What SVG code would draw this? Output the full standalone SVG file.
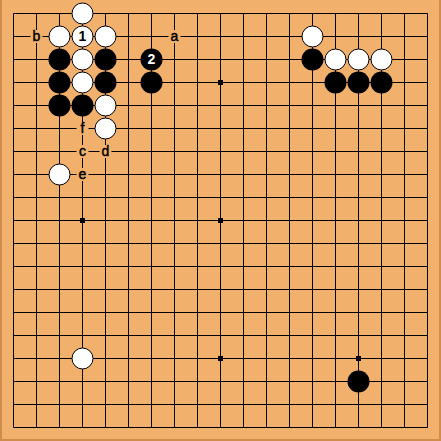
<svg xmlns="http://www.w3.org/2000/svg" width="441" height="441" viewBox="0 0 441 441">
<style>
.w{fill:#fff;stroke:#000;stroke-width:1}
.b{fill:#000}
.lbl{font-family:"Liberation Sans",Arial,sans-serif;font-size:14px;text-anchor:middle}
.let{fill:#000;stroke:#000;stroke-width:0.45}
.num{font-weight:bold}
.mask{fill:#F1B06B}
.star{fill:#000}
</style>
<rect x="0" y="0" width="441" height="441" fill="#D08C4C"/>
<rect x="2" y="0" width="437" height="439" fill="#F1B06B"/>
<g id="grid" stroke="#000" stroke-width="1" fill="none">
<path d="M13.5 13.5V427.5M36.5 13.5V427.5M59.5 13.5V427.5M82.5 13.5V427.5M105.5 13.5V427.5M128.5 13.5V427.5M151.5 13.5V427.5M174.5 13.5V427.5M197.5 13.5V427.5M220.5 13.5V427.5M243.5 13.5V427.5M266.5 13.5V427.5M289.5 13.5V427.5M312.5 13.5V427.5M335.5 13.5V427.5M358.5 13.5V427.5M381.5 13.5V427.5M404.5 13.5V427.5M427.5 13.5V427.5"/>
<path d="M13.5 13.5H427.5M13.5 36.5H427.5M13.5 59.5H427.5M13.5 82.5H427.5M13.5 105.5H427.5M13.5 128.5H427.5M13.5 151.5H427.5M13.5 174.5H427.5M13.5 197.5H427.5M13.5 220.5H427.5M13.5 243.5H427.5M13.5 266.5H427.5M13.5 289.5H427.5M13.5 312.5H427.5M13.5 335.5H427.5M13.5 358.5H427.5M13.5 381.5H427.5M13.5 404.5H427.5M13.5 427.5H427.5"/>
</g>
<g id="stars">
<rect class="star" x="218" y="80" width="5" height="5"/>
<rect class="star" x="80" y="218" width="5" height="5"/>
<rect class="star" x="218" y="218" width="5" height="5"/>
<rect class="star" x="218" y="356" width="5" height="5"/>
<rect class="star" x="356" y="356" width="5" height="5"/>
</g>
<g id="stones">
<circle class="w" cx="82.5" cy="13.5" r="10.5"/>
<circle class="w" cx="59.5" cy="36.5" r="10.5"/>
<g id="move1"><circle class="w" cx="82.5" cy="36.5" r="10.5"/><text class="lbl num" x="82.5" y="41">1</text></g>
<circle class="w" cx="105.5" cy="36.5" r="10.5"/>
<circle class="b" cx="59.5" cy="59.5" r="11"/>
<circle class="w" cx="82.5" cy="59.5" r="10.5"/>
<circle class="b" cx="105.5" cy="59.5" r="11"/>
<g id="move2"><circle class="b" cx="151.5" cy="59.5" r="11"/><text class="lbl num" x="151.5" y="64" fill="#fff">2</text></g>
<circle class="b" cx="59.5" cy="82.5" r="11"/>
<circle class="w" cx="82.5" cy="82.5" r="10.5"/>
<circle class="b" cx="105.5" cy="82.5" r="11"/>
<circle class="b" cx="151.5" cy="82.5" r="11"/>
<circle class="b" cx="59.5" cy="105.5" r="11"/>
<circle class="b" cx="82.5" cy="105.5" r="11"/>
<circle class="w" cx="105.5" cy="105.5" r="10.5"/>
<circle class="w" cx="105.5" cy="128.5" r="10.5"/>
<circle class="w" cx="59.5" cy="174.5" r="10.5"/>
<circle class="w" cx="312.5" cy="36.5" r="10.5"/>
<circle class="b" cx="312.5" cy="59.5" r="11"/>
<circle class="w" cx="335.5" cy="59.5" r="10.5"/>
<circle class="w" cx="358.5" cy="59.5" r="10.5"/>
<circle class="w" cx="381.5" cy="59.5" r="10.5"/>
<circle class="b" cx="335.5" cy="82.5" r="11"/>
<circle class="b" cx="358.5" cy="82.5" r="11"/>
<circle class="b" cx="381.5" cy="82.5" r="11"/>
<circle class="w" cx="82.5" cy="358.5" r="10.5"/>
<circle class="b" cx="358.5" cy="381.5" r="11"/>
</g>
<g id="labels">
<g id="lb"><rect class="mask" x="30.5" y="30" width="12" height="13"/><text class="lbl let" x="36.5" y="41">b</text></g>
<g id="la"><rect class="mask" x="168.5" y="30" width="12" height="13"/><text class="lbl let" x="174.5" y="41">a</text></g>
<g id="lf"><rect class="mask" x="76.5" y="122" width="12" height="13"/><text class="lbl let" x="82.5" y="133">f</text></g>
<g id="lc"><rect class="mask" x="76.5" y="145" width="12" height="13"/><text class="lbl let" x="82.5" y="156">c</text></g>
<g id="ld"><rect class="mask" x="99.5" y="145" width="12" height="13"/><text class="lbl let" x="105.5" y="156">d</text></g>
<g id="le"><rect class="mask" x="76.5" y="168" width="12" height="13"/><text class="lbl let" x="82.5" y="179">e</text></g>
</g>
</svg>
